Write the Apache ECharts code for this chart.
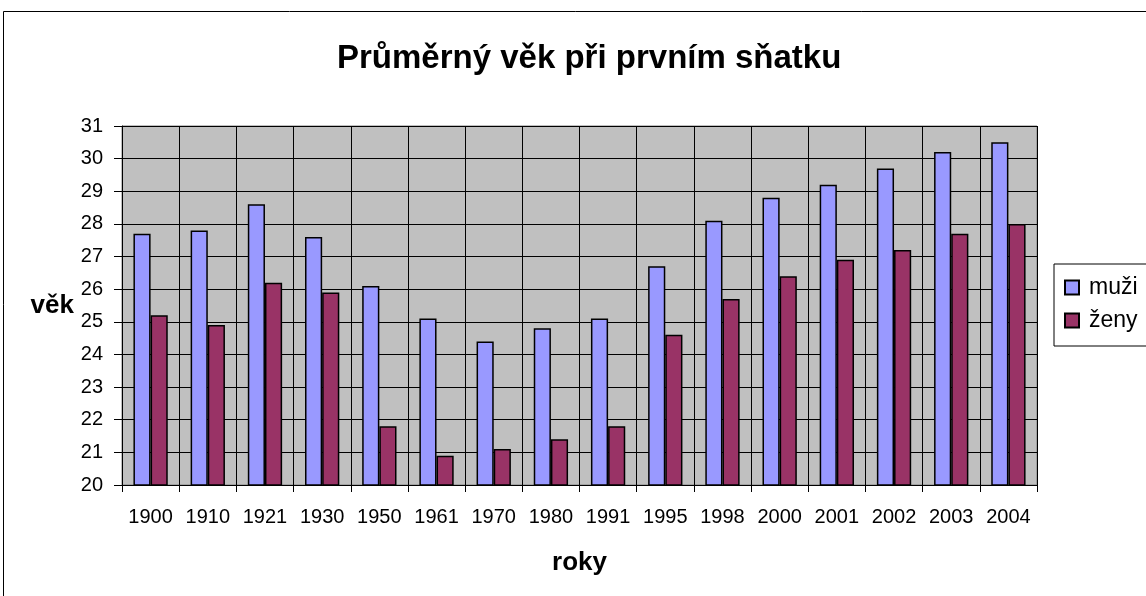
<!DOCTYPE html>
<html>
<head>
<meta charset="utf-8">
<script src="https://cdn.jsdelivr.net/npm/echarts@6/dist/echarts.min.js"></script>
<style>
  html, body { margin: 0; padding: 0; background: #fff; }
  #chart { width: 1146px; height: 596px; }
</style>
</head>
<body>
<div id="chart"></div>
<script>
// data
var roky = ['1900', '1910', '1921', '1930', '1950', '1961', '1970', '1980', '1991', '1995', '1998', '2000', '2001', '2002', '2003', '2004'];
var muzi = [27.7, 27.8, 28.6, 27.6, 26.1, 25.1, 24.4, 24.8, 25.1, 26.7, 28.1, 28.8, 29.2, 29.7, 30.2, 30.5];
var zeny = [25.2, 24.9, 26.2, 25.9, 21.8, 20.9, 21.1, 21.4, 21.8, 24.6, 25.7, 26.4, 26.9, 27.2, 27.7, 28.0];

var font = 'Liberation Sans, Arial, sans-serif';
var chart = echarts.init(document.getElementById('chart'));

var option = {
    animation: false,
    backgroundColor: '#fff',
    textStyle: { fontFamily: font },
    graphic: [{
        type: 'rect',
        shape: { x: 3.5, y: 11.5, width: 1200, height: 700 },
        style: { fill: null, stroke: '#000', lineWidth: 1 },
        silent: true,
        z: -1
    }],
    title: {
        text: 'Průměrný věk při prvním sňatku',
        left: 332,
        top: 37,
        textStyle: { fontFamily: font, fontSize: 33, fontWeight: 'bold', color: '#000' }
    },
    legend: {
        orient: 'vertical',
        left: 1054,
        top: 264,
        padding: [12, 40, 14, 10],
        itemGap: 10,
        itemWidth: 14,
        itemHeight: 14,
        icon: 'rect',
        borderColor: '#000',
        borderWidth: 1,
        backgroundColor: '#fff',
        textStyle: { fontFamily: font, fontSize: 23, color: '#000', padding: [0, 0, 0, 5] },
        data: ['muži', 'ženy']
    },
    grid: {
        left: 122,
        right: 109,
        top: 126,
        bottom: 111,
        show: true,
        backgroundColor: '#C0C0C0',
        borderColor: '#808080',
        borderWidth: 1
    },
    xAxis: {
        type: 'category',
        data: roky,
        name: 'roky',
        nameLocation: 'middle',
        nameGap: 65,
        nameTextStyle: { fontFamily: font, fontSize: 26, fontWeight: 'bold', color: '#000' },
        axisLine: { lineStyle: { color: '#000', width: 1 } },
        axisTick: { show: true, interval: 0, length: 7, lineStyle: { color: '#000' } },
        axisLabel: { interval: 0, hideOverlap: false, fontFamily: font, fontSize: 20, color: '#000', margin: 22 },
        splitLine: { show: true, interval: 0, lineStyle: { color: '#000', width: 1 } }
    },
    yAxis: {
        type: 'value',
        min: 20,
        max: 31,
        interval: 1,
        name: 'věk',
        nameLocation: 'middle',
        nameRotate: 0,
        nameGap: 48,
        nameTextStyle: { fontFamily: font, fontSize: 26, fontWeight: 'bold', color: '#000' },
        axisLine: { show: true, lineStyle: { color: '#000', width: 1 } },
        axisTick: { show: true, length: 8, lineStyle: { color: '#000' } },
        axisLabel: { fontFamily: font, fontSize: 20, color: '#000', margin: 19 },
        splitLine: { show: true, lineStyle: { color: '#000', width: 1 } }
    },
    series: [
        {
            name: 'muži',
            type: 'bar',
            data: muzi,
            barGap: '0%',
            barCategoryGap: '40%',
            itemStyle: { color: '#9999FF', borderColor: '#000', borderWidth: 1.5 }
        },
        {
            name: 'ženy',
            type: 'bar',
            data: zeny,
            barGap: '0%',
            barCategoryGap: '40%',
            itemStyle: { color: '#993366', borderColor: '#000', borderWidth: 1.5 }
        }
    ]
};

chart.setOption(option);
</script>
</body>
</html>
